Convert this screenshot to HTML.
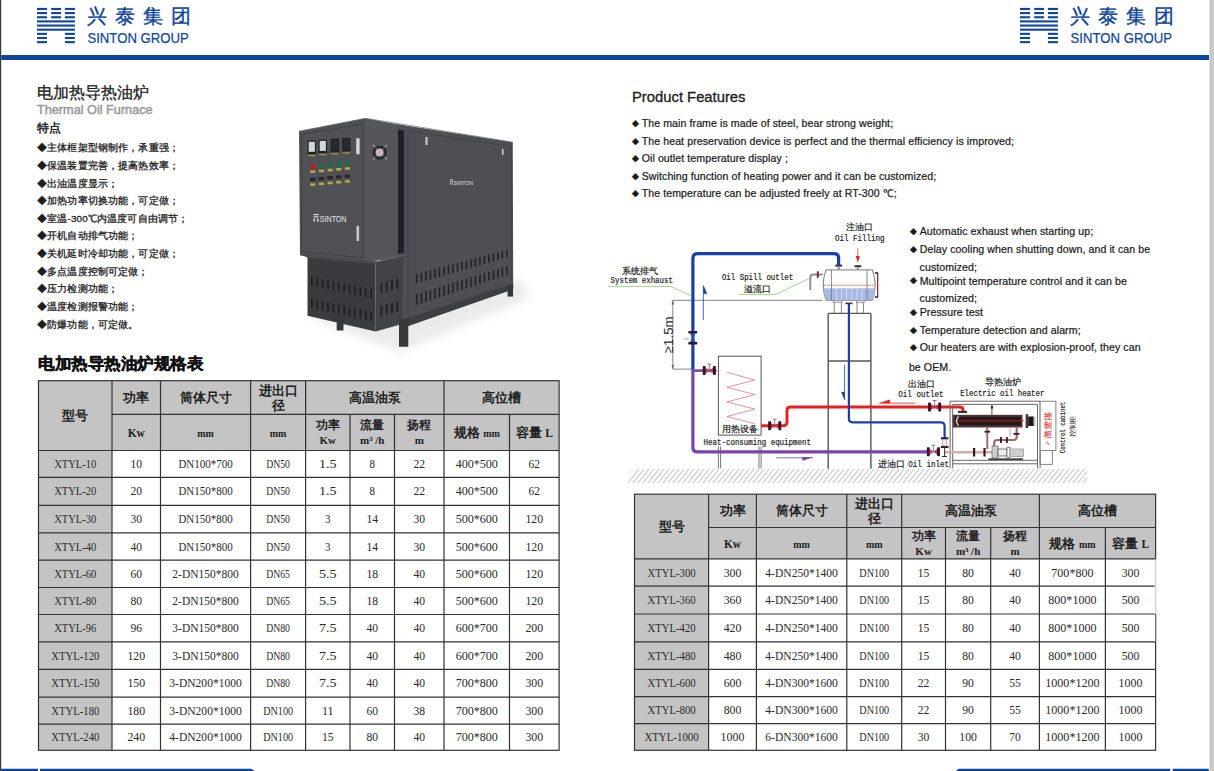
<!DOCTYPE html>
<html><head><meta charset="utf-8"><title>Thermal Oil Furnace</title>
<style>html,body{margin:0;padding:0;background:#fff;width:1214px;height:771px;overflow:hidden}svg{display:block}</style>
</head><body>
<svg width="1214" height="771" viewBox="0 0 1214 771">
<rect x="0" y="0" width="1.2" height="771" fill="#3a3a3a"/><rect x="1210" y="0" width="4" height="771" fill="#cbcbcb"/><rect x="1209.6" y="0" width="0.8" height="771" fill="#b8b8b8"/><rect x="1.2" y="55" width="1207.8" height="5" fill="#0d449c"/><path d="M1.2 768.7 H251 L254.6 771 H1.2Z" fill="#0d449c"/><rect x="38" y="768" width="2" height="3" fill="#ffffff"/><path d="M958.8 768.7 H1208.8 V771 H955.8Z" fill="#0d449c"/><rect x="1170.2" y="768" width="2.4" height="3" fill="#ffffff"/><g fill="#0d449c"><rect x="37.00" y="7.90" width="10.00" height="2.1" /><rect x="51.20" y="7.90" width="9.80" height="2.1" /><rect x="64.90" y="7.90" width="10.00" height="2.1" /><rect x="37.00" y="12.05" width="10.00" height="2.1" /><rect x="51.20" y="12.05" width="9.80" height="2.1" /><rect x="64.90" y="12.05" width="10.00" height="2.1" /><rect x="37.00" y="16.20" width="10.00" height="2.1" /><rect x="51.20" y="16.20" width="9.80" height="2.1" /><rect x="64.90" y="16.20" width="10.00" height="2.1" /><rect x="37.00" y="20.35" width="37.9" height="2.1" /><rect x="37.00" y="24.50" width="37.9" height="2.1" /><rect x="37.00" y="28.65" width="37.9" height="2.1" /><rect x="37.00" y="32.80" width="10.00" height="2.1" /><rect x="64.90" y="32.80" width="10.00" height="2.1" /><rect x="37.00" y="36.95" width="10.00" height="2.1" /><rect x="64.90" y="36.95" width="10.00" height="2.1" /><rect x="37.00" y="41.10" width="10.00" height="2.1" /><rect x="64.90" y="41.10" width="10.00" height="2.1" /></g><text x="87.10000000000001" y="23.3" font-family="'Liberation Sans',sans-serif" font-size="20.3" fill="#0d449c" stroke="#0d449c" stroke-width="0.35" letter-spacing="7.9">兴泰集团</text><text x="87.4" y="43" font-family="'Liberation Sans',sans-serif" font-size="13.9" fill="#0d449c" stroke="#0d449c" stroke-width="0.2" textLength="101.5" lengthAdjust="spacingAndGlyphs">SINTON GROUP</text><g fill="#0d449c"><rect x="1020.00" y="7.90" width="10.00" height="2.1" /><rect x="1034.20" y="7.90" width="9.80" height="2.1" /><rect x="1047.90" y="7.90" width="10.00" height="2.1" /><rect x="1020.00" y="12.05" width="10.00" height="2.1" /><rect x="1034.20" y="12.05" width="9.80" height="2.1" /><rect x="1047.90" y="12.05" width="10.00" height="2.1" /><rect x="1020.00" y="16.20" width="10.00" height="2.1" /><rect x="1034.20" y="16.20" width="9.80" height="2.1" /><rect x="1047.90" y="16.20" width="10.00" height="2.1" /><rect x="1020.00" y="20.35" width="37.9" height="2.1" /><rect x="1020.00" y="24.50" width="37.9" height="2.1" /><rect x="1020.00" y="28.65" width="37.9" height="2.1" /><rect x="1020.00" y="32.80" width="10.00" height="2.1" /><rect x="1047.90" y="32.80" width="10.00" height="2.1" /><rect x="1020.00" y="36.95" width="10.00" height="2.1" /><rect x="1047.90" y="36.95" width="10.00" height="2.1" /><rect x="1020.00" y="41.10" width="10.00" height="2.1" /><rect x="1047.90" y="41.10" width="10.00" height="2.1" /></g><text x="1070.2" y="23.3" font-family="'Liberation Sans',sans-serif" font-size="20.3" fill="#0d449c" stroke="#0d449c" stroke-width="0.35" letter-spacing="7.9">兴泰集团</text><text x="1070.5" y="43" font-family="'Liberation Sans',sans-serif" font-size="13.9" fill="#0d449c" stroke="#0d449c" stroke-width="0.2" textLength="101.5" lengthAdjust="spacingAndGlyphs">SINTON GROUP</text><text x="37" y="98" font-family="'Liberation Sans',sans-serif" font-size="16" font-weight="normal" fill="#222" text-anchor="start" stroke="#222" stroke-width="0.3">电加热导热油炉</text><text x="37" y="113.5" font-family="'Liberation Sans',sans-serif" font-size="12.7" font-weight="normal" fill="#9a9a9a" text-anchor="start" stroke="#9a9a9a" stroke-width="0.5">Thermal Oil Furnace</text><text x="37" y="132" font-family="'Liberation Sans',sans-serif" font-size="12" font-weight="bold" fill="#222" text-anchor="start" >特点</text><text x="37" y="151.30" font-family="'Liberation Sans',sans-serif" font-size="9.9" font-weight="normal" fill="#1e1e1e" text-anchor="start" stroke="#1e1e1e" stroke-width="0.3" letter-spacing="0.15">◆主体框架型钢制作，承重强；</text><text x="37" y="168.93" font-family="'Liberation Sans',sans-serif" font-size="9.9" font-weight="normal" fill="#1e1e1e" text-anchor="start" stroke="#1e1e1e" stroke-width="0.3" letter-spacing="0.15">◆保温装置完善，提高热效率；</text><text x="37" y="186.56" font-family="'Liberation Sans',sans-serif" font-size="9.9" font-weight="normal" fill="#1e1e1e" text-anchor="start" stroke="#1e1e1e" stroke-width="0.3" letter-spacing="0.15">◆出油温度显示；</text><text x="37" y="204.19" font-family="'Liberation Sans',sans-serif" font-size="9.9" font-weight="normal" fill="#1e1e1e" text-anchor="start" stroke="#1e1e1e" stroke-width="0.3" letter-spacing="0.15">◆加热功率切换功能，可定做；</text><text x="37" y="221.82" font-family="'Liberation Sans',sans-serif" font-size="9.9" font-weight="normal" fill="#1e1e1e" text-anchor="start" stroke="#1e1e1e" stroke-width="0.3" letter-spacing="0.15">◆室温-300℃内温度可自由调节；</text><text x="37" y="239.45" font-family="'Liberation Sans',sans-serif" font-size="9.9" font-weight="normal" fill="#1e1e1e" text-anchor="start" stroke="#1e1e1e" stroke-width="0.3" letter-spacing="0.15">◆开机自动排气功能；</text><text x="37" y="257.08" font-family="'Liberation Sans',sans-serif" font-size="9.9" font-weight="normal" fill="#1e1e1e" text-anchor="start" stroke="#1e1e1e" stroke-width="0.3" letter-spacing="0.15">◆关机延时冷却功能，可定做；</text><text x="37" y="274.71" font-family="'Liberation Sans',sans-serif" font-size="9.9" font-weight="normal" fill="#1e1e1e" text-anchor="start" stroke="#1e1e1e" stroke-width="0.3" letter-spacing="0.15">◆多点温度控制可定做；</text><text x="37" y="292.34" font-family="'Liberation Sans',sans-serif" font-size="9.9" font-weight="normal" fill="#1e1e1e" text-anchor="start" stroke="#1e1e1e" stroke-width="0.3" letter-spacing="0.15">◆压力检测功能；</text><text x="37" y="309.97" font-family="'Liberation Sans',sans-serif" font-size="9.9" font-weight="normal" fill="#1e1e1e" text-anchor="start" stroke="#1e1e1e" stroke-width="0.3" letter-spacing="0.15">◆温度检测报警功能；</text><text x="37" y="327.60" font-family="'Liberation Sans',sans-serif" font-size="9.9" font-weight="normal" fill="#1e1e1e" text-anchor="start" stroke="#1e1e1e" stroke-width="0.3" letter-spacing="0.15">◆防爆功能，可定做。</text><text x="38" y="368.8" font-family="'Liberation Sans',sans-serif" font-size="16.3" font-weight="bold" fill="#111" text-anchor="start" textLength="165.5" lengthAdjust="spacingAndGlyphs" stroke="#111" stroke-width="0.35">电加热导热油炉规格表</text><rect x="38.5" y="380.7" width="520.6" height="69.80000000000001" fill="#c4c4c4"/><rect x="38.5" y="450.5" width="73.5" height="299.79999999999995" fill="#c4c4c4"/><rect x="38.5" y="380.7" width="520.6" height="369.59999999999997" fill="none" stroke="#333" stroke-width="1.2"/><line x1="112" y1="380.7" x2="112" y2="750.3" stroke="#333" stroke-width="1.2"/><line x1="160.5" y1="380.7" x2="160.5" y2="750.3" stroke="#333" stroke-width="1.2"/><line x1="250.6" y1="380.7" x2="250.6" y2="750.3" stroke="#333" stroke-width="1.2"/><line x1="305.6" y1="380.7" x2="305.6" y2="750.3" stroke="#333" stroke-width="1.2"/><line x1="350" y1="414.3" x2="350" y2="750.3" stroke="#333" stroke-width="1.2"/><line x1="394.5" y1="414.3" x2="394.5" y2="750.3" stroke="#333" stroke-width="1.2"/><line x1="444" y1="380.7" x2="444" y2="750.3" stroke="#333" stroke-width="1.2"/><line x1="509.5" y1="414.3" x2="509.5" y2="750.3" stroke="#333" stroke-width="1.2"/><line x1="112" y1="414.3" x2="559.1" y2="414.3" stroke="#333" stroke-width="1.2"/><line x1="38.5" y1="450.5" x2="559.1" y2="450.5" stroke="#333" stroke-width="1.2"/><line x1="38.5" y1="477.30" x2="559.1" y2="477.30" stroke="#333" stroke-width="1.2"/><line x1="38.5" y1="505.30" x2="559.1" y2="505.30" stroke="#333" stroke-width="1.2"/><line x1="38.5" y1="532.90" x2="559.1" y2="532.90" stroke="#333" stroke-width="1.2"/><line x1="38.5" y1="560.20" x2="559.1" y2="560.20" stroke="#333" stroke-width="1.2"/><line x1="38.5" y1="587.50" x2="559.1" y2="587.50" stroke="#333" stroke-width="1.2"/><line x1="38.5" y1="614.50" x2="559.1" y2="614.50" stroke="#333" stroke-width="1.2"/><line x1="38.5" y1="641.80" x2="559.1" y2="641.80" stroke="#333" stroke-width="1.2"/><line x1="38.5" y1="669.40" x2="559.1" y2="669.40" stroke="#333" stroke-width="1.2"/><line x1="38.5" y1="697.10" x2="559.1" y2="697.10" stroke="#333" stroke-width="1.2"/><line x1="38.5" y1="724.10" x2="559.1" y2="724.10" stroke="#333" stroke-width="1.2"/><text x="75.25" y="420.1" font-family="'Liberation Sans',sans-serif" font-size="13" font-weight="bold" fill="#222" text-anchor="middle" >型号</text><text x="136.25" y="402.0" font-family="'Liberation Sans',sans-serif" font-size="13" font-weight="bold" fill="#222" text-anchor="middle" >功率</text><text x="205.55" y="402.0" font-family="'Liberation Sans',sans-serif" font-size="13" font-weight="bold" fill="#222" text-anchor="middle" >筒体尺寸</text><text x="278.1" y="394.7" font-family="'Liberation Sans',sans-serif" font-size="13" font-weight="bold" fill="#222" text-anchor="middle" >进出口</text><text x="278.1" y="410.1" font-family="'Liberation Sans',sans-serif" font-size="13" font-weight="bold" fill="#222" text-anchor="middle" >径</text><text x="374.8" y="402.0" font-family="'Liberation Sans',sans-serif" font-size="13" font-weight="bold" fill="#222" text-anchor="middle" >高温油泵</text><text x="501.55" y="402.0" font-family="'Liberation Sans',sans-serif" font-size="13" font-weight="bold" fill="#222" text-anchor="middle" >高位槽</text><text x="136.25" y="437.4" font-family="'Liberation Serif',serif" font-size="11.5" font-weight="bold" fill="#222" text-anchor="middle" >Kw</text><text x="205.55" y="437.4" font-family="'Liberation Serif',serif" font-size="10" font-weight="bold" fill="#222" text-anchor="middle" >mm</text><text x="278.1" y="437.4" font-family="'Liberation Serif',serif" font-size="10" font-weight="bold" fill="#222" text-anchor="middle" >mm</text><text x="327.8" y="429.09999999999997" font-family="'Liberation Sans',sans-serif" font-size="12" font-weight="bold" fill="#222" text-anchor="middle" >功率</text><text x="327.8" y="444.4" font-family="'Liberation Serif',serif" font-size="11" font-weight="bold" fill="#222" text-anchor="middle" >Kw</text><text x="372.25" y="429.09999999999997" font-family="'Liberation Sans',sans-serif" font-size="12" font-weight="bold" fill="#222" text-anchor="middle" >流量</text><text x="372.25" y="444.4" font-family="'Liberation Serif',serif" font-size="11" font-weight="bold" fill="#222" text-anchor="middle" >m³ /h</text><text x="419.25" y="429.09999999999997" font-family="'Liberation Sans',sans-serif" font-size="12" font-weight="bold" fill="#222" text-anchor="middle" >扬程</text><text x="419.25" y="444.4" font-family="'Liberation Serif',serif" font-size="11" font-weight="bold" fill="#222" text-anchor="middle" >m</text><text x="476.75" y="436.9" font-family="'Liberation Sans',sans-serif" font-size="13" font-weight="bold" fill="#222" text-anchor="middle" >规格 <tspan font-family="Liberation Serif" font-size="10">mm</tspan></text><text x="534.3" y="436.9" font-family="'Liberation Sans',sans-serif" font-size="13" font-weight="bold" fill="#222" text-anchor="middle" >容量 <tspan font-family="Liberation Serif" font-size="11.5">L</tspan></text><text x="75.25" y="467.90" font-family="'Liberation Serif',serif" font-size="11.8" font-weight="normal" fill="#2a2a2a" text-anchor="middle" textLength="42.1" lengthAdjust="spacingAndGlyphs">XTYL-10</text><text x="136.25" y="467.90" font-family="'Liberation Serif',serif" font-size="11.8" font-weight="normal" fill="#2a2a2a" text-anchor="middle" textLength="11.6" lengthAdjust="spacingAndGlyphs">10</text><text x="205.55" y="467.90" font-family="'Liberation Serif',serif" font-size="11.8" font-weight="normal" fill="#2a2a2a" text-anchor="middle" textLength="54.3" lengthAdjust="spacingAndGlyphs">DN100*700</text><text x="278.1" y="467.90" font-family="'Liberation Serif',serif" font-size="11.8" font-weight="normal" fill="#2a2a2a" text-anchor="middle" textLength="23.8" lengthAdjust="spacingAndGlyphs">DN50</text><text x="327.8" y="467.90" font-family="'Liberation Serif',serif" font-size="11.8" font-weight="normal" fill="#2a2a2a" text-anchor="middle" textLength="17.7" lengthAdjust="spacingAndGlyphs">1.5</text><text x="372.25" y="467.90" font-family="'Liberation Serif',serif" font-size="11.8" font-weight="normal" fill="#2a2a2a" text-anchor="middle" textLength="5.5" lengthAdjust="spacingAndGlyphs">8</text><text x="419.25" y="467.90" font-family="'Liberation Serif',serif" font-size="11.8" font-weight="normal" fill="#2a2a2a" text-anchor="middle" textLength="11.6" lengthAdjust="spacingAndGlyphs">22</text><text x="476.75" y="467.90" font-family="'Liberation Serif',serif" font-size="11.8" font-weight="normal" fill="#2a2a2a" text-anchor="middle" textLength="42.1" lengthAdjust="spacingAndGlyphs">400*500</text><text x="534.3" y="467.90" font-family="'Liberation Serif',serif" font-size="11.8" font-weight="normal" fill="#2a2a2a" text-anchor="middle" textLength="11.6" lengthAdjust="spacingAndGlyphs">62</text><text x="75.25" y="495.30" font-family="'Liberation Serif',serif" font-size="11.8" font-weight="normal" fill="#2a2a2a" text-anchor="middle" textLength="42.1" lengthAdjust="spacingAndGlyphs">XTYL-20</text><text x="136.25" y="495.30" font-family="'Liberation Serif',serif" font-size="11.8" font-weight="normal" fill="#2a2a2a" text-anchor="middle" textLength="11.6" lengthAdjust="spacingAndGlyphs">20</text><text x="205.55" y="495.30" font-family="'Liberation Serif',serif" font-size="11.8" font-weight="normal" fill="#2a2a2a" text-anchor="middle" textLength="54.3" lengthAdjust="spacingAndGlyphs">DN150*800</text><text x="278.1" y="495.30" font-family="'Liberation Serif',serif" font-size="11.8" font-weight="normal" fill="#2a2a2a" text-anchor="middle" textLength="23.8" lengthAdjust="spacingAndGlyphs">DN50</text><text x="327.8" y="495.30" font-family="'Liberation Serif',serif" font-size="11.8" font-weight="normal" fill="#2a2a2a" text-anchor="middle" textLength="17.7" lengthAdjust="spacingAndGlyphs">1.5</text><text x="372.25" y="495.30" font-family="'Liberation Serif',serif" font-size="11.8" font-weight="normal" fill="#2a2a2a" text-anchor="middle" textLength="5.5" lengthAdjust="spacingAndGlyphs">8</text><text x="419.25" y="495.30" font-family="'Liberation Serif',serif" font-size="11.8" font-weight="normal" fill="#2a2a2a" text-anchor="middle" textLength="11.6" lengthAdjust="spacingAndGlyphs">22</text><text x="476.75" y="495.30" font-family="'Liberation Serif',serif" font-size="11.8" font-weight="normal" fill="#2a2a2a" text-anchor="middle" textLength="42.1" lengthAdjust="spacingAndGlyphs">400*500</text><text x="534.3" y="495.30" font-family="'Liberation Serif',serif" font-size="11.8" font-weight="normal" fill="#2a2a2a" text-anchor="middle" textLength="11.6" lengthAdjust="spacingAndGlyphs">62</text><text x="75.25" y="523.10" font-family="'Liberation Serif',serif" font-size="11.8" font-weight="normal" fill="#2a2a2a" text-anchor="middle" textLength="42.1" lengthAdjust="spacingAndGlyphs">XTYL-30</text><text x="136.25" y="523.10" font-family="'Liberation Serif',serif" font-size="11.8" font-weight="normal" fill="#2a2a2a" text-anchor="middle" textLength="11.6" lengthAdjust="spacingAndGlyphs">30</text><text x="205.55" y="523.10" font-family="'Liberation Serif',serif" font-size="11.8" font-weight="normal" fill="#2a2a2a" text-anchor="middle" textLength="54.3" lengthAdjust="spacingAndGlyphs">DN150*800</text><text x="278.1" y="523.10" font-family="'Liberation Serif',serif" font-size="11.8" font-weight="normal" fill="#2a2a2a" text-anchor="middle" textLength="23.8" lengthAdjust="spacingAndGlyphs">DN50</text><text x="327.8" y="523.10" font-family="'Liberation Serif',serif" font-size="11.8" font-weight="normal" fill="#2a2a2a" text-anchor="middle" textLength="5.5" lengthAdjust="spacingAndGlyphs">3</text><text x="372.25" y="523.10" font-family="'Liberation Serif',serif" font-size="11.8" font-weight="normal" fill="#2a2a2a" text-anchor="middle" textLength="11.6" lengthAdjust="spacingAndGlyphs">14</text><text x="419.25" y="523.10" font-family="'Liberation Serif',serif" font-size="11.8" font-weight="normal" fill="#2a2a2a" text-anchor="middle" textLength="11.6" lengthAdjust="spacingAndGlyphs">30</text><text x="476.75" y="523.10" font-family="'Liberation Serif',serif" font-size="11.8" font-weight="normal" fill="#2a2a2a" text-anchor="middle" textLength="42.1" lengthAdjust="spacingAndGlyphs">500*600</text><text x="534.3" y="523.10" font-family="'Liberation Serif',serif" font-size="11.8" font-weight="normal" fill="#2a2a2a" text-anchor="middle" textLength="17.7" lengthAdjust="spacingAndGlyphs">120</text><text x="75.25" y="550.55" font-family="'Liberation Serif',serif" font-size="11.8" font-weight="normal" fill="#2a2a2a" text-anchor="middle" textLength="42.1" lengthAdjust="spacingAndGlyphs">XTYL-40</text><text x="136.25" y="550.55" font-family="'Liberation Serif',serif" font-size="11.8" font-weight="normal" fill="#2a2a2a" text-anchor="middle" textLength="11.6" lengthAdjust="spacingAndGlyphs">40</text><text x="205.55" y="550.55" font-family="'Liberation Serif',serif" font-size="11.8" font-weight="normal" fill="#2a2a2a" text-anchor="middle" textLength="54.3" lengthAdjust="spacingAndGlyphs">DN150*800</text><text x="278.1" y="550.55" font-family="'Liberation Serif',serif" font-size="11.8" font-weight="normal" fill="#2a2a2a" text-anchor="middle" textLength="23.8" lengthAdjust="spacingAndGlyphs">DN50</text><text x="327.8" y="550.55" font-family="'Liberation Serif',serif" font-size="11.8" font-weight="normal" fill="#2a2a2a" text-anchor="middle" textLength="5.5" lengthAdjust="spacingAndGlyphs">3</text><text x="372.25" y="550.55" font-family="'Liberation Serif',serif" font-size="11.8" font-weight="normal" fill="#2a2a2a" text-anchor="middle" textLength="11.6" lengthAdjust="spacingAndGlyphs">14</text><text x="419.25" y="550.55" font-family="'Liberation Serif',serif" font-size="11.8" font-weight="normal" fill="#2a2a2a" text-anchor="middle" textLength="11.6" lengthAdjust="spacingAndGlyphs">30</text><text x="476.75" y="550.55" font-family="'Liberation Serif',serif" font-size="11.8" font-weight="normal" fill="#2a2a2a" text-anchor="middle" textLength="42.1" lengthAdjust="spacingAndGlyphs">500*600</text><text x="534.3" y="550.55" font-family="'Liberation Serif',serif" font-size="11.8" font-weight="normal" fill="#2a2a2a" text-anchor="middle" textLength="17.7" lengthAdjust="spacingAndGlyphs">120</text><text x="75.25" y="577.85" font-family="'Liberation Serif',serif" font-size="11.8" font-weight="normal" fill="#2a2a2a" text-anchor="middle" textLength="42.1" lengthAdjust="spacingAndGlyphs">XTYL-60</text><text x="136.25" y="577.85" font-family="'Liberation Serif',serif" font-size="11.8" font-weight="normal" fill="#2a2a2a" text-anchor="middle" textLength="11.6" lengthAdjust="spacingAndGlyphs">60</text><text x="205.55" y="577.85" font-family="'Liberation Serif',serif" font-size="11.8" font-weight="normal" fill="#2a2a2a" text-anchor="middle" textLength="66.5" lengthAdjust="spacingAndGlyphs">2-DN150*800</text><text x="278.1" y="577.85" font-family="'Liberation Serif',serif" font-size="11.8" font-weight="normal" fill="#2a2a2a" text-anchor="middle" textLength="23.8" lengthAdjust="spacingAndGlyphs">DN65</text><text x="327.8" y="577.85" font-family="'Liberation Serif',serif" font-size="11.8" font-weight="normal" fill="#2a2a2a" text-anchor="middle" textLength="17.7" lengthAdjust="spacingAndGlyphs">5.5</text><text x="372.25" y="577.85" font-family="'Liberation Serif',serif" font-size="11.8" font-weight="normal" fill="#2a2a2a" text-anchor="middle" textLength="11.6" lengthAdjust="spacingAndGlyphs">18</text><text x="419.25" y="577.85" font-family="'Liberation Serif',serif" font-size="11.8" font-weight="normal" fill="#2a2a2a" text-anchor="middle" textLength="11.6" lengthAdjust="spacingAndGlyphs">40</text><text x="476.75" y="577.85" font-family="'Liberation Serif',serif" font-size="11.8" font-weight="normal" fill="#2a2a2a" text-anchor="middle" textLength="42.1" lengthAdjust="spacingAndGlyphs">500*600</text><text x="534.3" y="577.85" font-family="'Liberation Serif',serif" font-size="11.8" font-weight="normal" fill="#2a2a2a" text-anchor="middle" textLength="17.7" lengthAdjust="spacingAndGlyphs">120</text><text x="75.25" y="605.00" font-family="'Liberation Serif',serif" font-size="11.8" font-weight="normal" fill="#2a2a2a" text-anchor="middle" textLength="42.1" lengthAdjust="spacingAndGlyphs">XTYL-80</text><text x="136.25" y="605.00" font-family="'Liberation Serif',serif" font-size="11.8" font-weight="normal" fill="#2a2a2a" text-anchor="middle" textLength="11.6" lengthAdjust="spacingAndGlyphs">80</text><text x="205.55" y="605.00" font-family="'Liberation Serif',serif" font-size="11.8" font-weight="normal" fill="#2a2a2a" text-anchor="middle" textLength="66.5" lengthAdjust="spacingAndGlyphs">2-DN150*800</text><text x="278.1" y="605.00" font-family="'Liberation Serif',serif" font-size="11.8" font-weight="normal" fill="#2a2a2a" text-anchor="middle" textLength="23.8" lengthAdjust="spacingAndGlyphs">DN65</text><text x="327.8" y="605.00" font-family="'Liberation Serif',serif" font-size="11.8" font-weight="normal" fill="#2a2a2a" text-anchor="middle" textLength="17.7" lengthAdjust="spacingAndGlyphs">5.5</text><text x="372.25" y="605.00" font-family="'Liberation Serif',serif" font-size="11.8" font-weight="normal" fill="#2a2a2a" text-anchor="middle" textLength="11.6" lengthAdjust="spacingAndGlyphs">18</text><text x="419.25" y="605.00" font-family="'Liberation Serif',serif" font-size="11.8" font-weight="normal" fill="#2a2a2a" text-anchor="middle" textLength="11.6" lengthAdjust="spacingAndGlyphs">40</text><text x="476.75" y="605.00" font-family="'Liberation Serif',serif" font-size="11.8" font-weight="normal" fill="#2a2a2a" text-anchor="middle" textLength="42.1" lengthAdjust="spacingAndGlyphs">500*600</text><text x="534.3" y="605.00" font-family="'Liberation Serif',serif" font-size="11.8" font-weight="normal" fill="#2a2a2a" text-anchor="middle" textLength="17.7" lengthAdjust="spacingAndGlyphs">120</text><text x="75.25" y="632.15" font-family="'Liberation Serif',serif" font-size="11.8" font-weight="normal" fill="#2a2a2a" text-anchor="middle" textLength="42.1" lengthAdjust="spacingAndGlyphs">XTYL-96</text><text x="136.25" y="632.15" font-family="'Liberation Serif',serif" font-size="11.8" font-weight="normal" fill="#2a2a2a" text-anchor="middle" textLength="11.6" lengthAdjust="spacingAndGlyphs">96</text><text x="205.55" y="632.15" font-family="'Liberation Serif',serif" font-size="11.8" font-weight="normal" fill="#2a2a2a" text-anchor="middle" textLength="66.5" lengthAdjust="spacingAndGlyphs">3-DN150*800</text><text x="278.1" y="632.15" font-family="'Liberation Serif',serif" font-size="11.8" font-weight="normal" fill="#2a2a2a" text-anchor="middle" textLength="23.8" lengthAdjust="spacingAndGlyphs">DN80</text><text x="327.8" y="632.15" font-family="'Liberation Serif',serif" font-size="11.8" font-weight="normal" fill="#2a2a2a" text-anchor="middle" textLength="17.7" lengthAdjust="spacingAndGlyphs">7.5</text><text x="372.25" y="632.15" font-family="'Liberation Serif',serif" font-size="11.8" font-weight="normal" fill="#2a2a2a" text-anchor="middle" textLength="11.6" lengthAdjust="spacingAndGlyphs">40</text><text x="419.25" y="632.15" font-family="'Liberation Serif',serif" font-size="11.8" font-weight="normal" fill="#2a2a2a" text-anchor="middle" textLength="11.6" lengthAdjust="spacingAndGlyphs">40</text><text x="476.75" y="632.15" font-family="'Liberation Serif',serif" font-size="11.8" font-weight="normal" fill="#2a2a2a" text-anchor="middle" textLength="42.1" lengthAdjust="spacingAndGlyphs">600*700</text><text x="534.3" y="632.15" font-family="'Liberation Serif',serif" font-size="11.8" font-weight="normal" fill="#2a2a2a" text-anchor="middle" textLength="17.7" lengthAdjust="spacingAndGlyphs">200</text><text x="75.25" y="659.60" font-family="'Liberation Serif',serif" font-size="11.8" font-weight="normal" fill="#2a2a2a" text-anchor="middle" textLength="48.2" lengthAdjust="spacingAndGlyphs">XTYL-120</text><text x="136.25" y="659.60" font-family="'Liberation Serif',serif" font-size="11.8" font-weight="normal" fill="#2a2a2a" text-anchor="middle" textLength="17.7" lengthAdjust="spacingAndGlyphs">120</text><text x="205.55" y="659.60" font-family="'Liberation Serif',serif" font-size="11.8" font-weight="normal" fill="#2a2a2a" text-anchor="middle" textLength="66.5" lengthAdjust="spacingAndGlyphs">3-DN150*800</text><text x="278.1" y="659.60" font-family="'Liberation Serif',serif" font-size="11.8" font-weight="normal" fill="#2a2a2a" text-anchor="middle" textLength="23.8" lengthAdjust="spacingAndGlyphs">DN80</text><text x="327.8" y="659.60" font-family="'Liberation Serif',serif" font-size="11.8" font-weight="normal" fill="#2a2a2a" text-anchor="middle" textLength="17.7" lengthAdjust="spacingAndGlyphs">7.5</text><text x="372.25" y="659.60" font-family="'Liberation Serif',serif" font-size="11.8" font-weight="normal" fill="#2a2a2a" text-anchor="middle" textLength="11.6" lengthAdjust="spacingAndGlyphs">40</text><text x="419.25" y="659.60" font-family="'Liberation Serif',serif" font-size="11.8" font-weight="normal" fill="#2a2a2a" text-anchor="middle" textLength="11.6" lengthAdjust="spacingAndGlyphs">40</text><text x="476.75" y="659.60" font-family="'Liberation Serif',serif" font-size="11.8" font-weight="normal" fill="#2a2a2a" text-anchor="middle" textLength="42.1" lengthAdjust="spacingAndGlyphs">600*700</text><text x="534.3" y="659.60" font-family="'Liberation Serif',serif" font-size="11.8" font-weight="normal" fill="#2a2a2a" text-anchor="middle" textLength="17.7" lengthAdjust="spacingAndGlyphs">200</text><text x="75.25" y="687.25" font-family="'Liberation Serif',serif" font-size="11.8" font-weight="normal" fill="#2a2a2a" text-anchor="middle" textLength="48.2" lengthAdjust="spacingAndGlyphs">XTYL-150</text><text x="136.25" y="687.25" font-family="'Liberation Serif',serif" font-size="11.8" font-weight="normal" fill="#2a2a2a" text-anchor="middle" textLength="17.7" lengthAdjust="spacingAndGlyphs">150</text><text x="205.55" y="687.25" font-family="'Liberation Serif',serif" font-size="11.8" font-weight="normal" fill="#2a2a2a" text-anchor="middle" textLength="72.6" lengthAdjust="spacingAndGlyphs">3-DN200*1000</text><text x="278.1" y="687.25" font-family="'Liberation Serif',serif" font-size="11.8" font-weight="normal" fill="#2a2a2a" text-anchor="middle" textLength="23.8" lengthAdjust="spacingAndGlyphs">DN80</text><text x="327.8" y="687.25" font-family="'Liberation Serif',serif" font-size="11.8" font-weight="normal" fill="#2a2a2a" text-anchor="middle" textLength="17.7" lengthAdjust="spacingAndGlyphs">7.5</text><text x="372.25" y="687.25" font-family="'Liberation Serif',serif" font-size="11.8" font-weight="normal" fill="#2a2a2a" text-anchor="middle" textLength="11.6" lengthAdjust="spacingAndGlyphs">40</text><text x="419.25" y="687.25" font-family="'Liberation Serif',serif" font-size="11.8" font-weight="normal" fill="#2a2a2a" text-anchor="middle" textLength="11.6" lengthAdjust="spacingAndGlyphs">40</text><text x="476.75" y="687.25" font-family="'Liberation Serif',serif" font-size="11.8" font-weight="normal" fill="#2a2a2a" text-anchor="middle" textLength="42.1" lengthAdjust="spacingAndGlyphs">700*800</text><text x="534.3" y="687.25" font-family="'Liberation Serif',serif" font-size="11.8" font-weight="normal" fill="#2a2a2a" text-anchor="middle" textLength="17.7" lengthAdjust="spacingAndGlyphs">300</text><text x="75.25" y="714.60" font-family="'Liberation Serif',serif" font-size="11.8" font-weight="normal" fill="#2a2a2a" text-anchor="middle" textLength="48.2" lengthAdjust="spacingAndGlyphs">XTYL-180</text><text x="136.25" y="714.60" font-family="'Liberation Serif',serif" font-size="11.8" font-weight="normal" fill="#2a2a2a" text-anchor="middle" textLength="17.7" lengthAdjust="spacingAndGlyphs">180</text><text x="205.55" y="714.60" font-family="'Liberation Serif',serif" font-size="11.8" font-weight="normal" fill="#2a2a2a" text-anchor="middle" textLength="72.6" lengthAdjust="spacingAndGlyphs">3-DN200*1000</text><text x="278.1" y="714.60" font-family="'Liberation Serif',serif" font-size="11.8" font-weight="normal" fill="#2a2a2a" text-anchor="middle" textLength="29.9" lengthAdjust="spacingAndGlyphs">DN100</text><text x="327.8" y="714.60" font-family="'Liberation Serif',serif" font-size="11.8" font-weight="normal" fill="#2a2a2a" text-anchor="middle" textLength="11.6" lengthAdjust="spacingAndGlyphs">11</text><text x="372.25" y="714.60" font-family="'Liberation Serif',serif" font-size="11.8" font-weight="normal" fill="#2a2a2a" text-anchor="middle" textLength="11.6" lengthAdjust="spacingAndGlyphs">60</text><text x="419.25" y="714.60" font-family="'Liberation Serif',serif" font-size="11.8" font-weight="normal" fill="#2a2a2a" text-anchor="middle" textLength="11.6" lengthAdjust="spacingAndGlyphs">38</text><text x="476.75" y="714.60" font-family="'Liberation Serif',serif" font-size="11.8" font-weight="normal" fill="#2a2a2a" text-anchor="middle" textLength="42.1" lengthAdjust="spacingAndGlyphs">700*800</text><text x="534.3" y="714.60" font-family="'Liberation Serif',serif" font-size="11.8" font-weight="normal" fill="#2a2a2a" text-anchor="middle" textLength="17.7" lengthAdjust="spacingAndGlyphs">300</text><text x="75.25" y="741.20" font-family="'Liberation Serif',serif" font-size="11.8" font-weight="normal" fill="#2a2a2a" text-anchor="middle" textLength="48.2" lengthAdjust="spacingAndGlyphs">XTYL-240</text><text x="136.25" y="741.20" font-family="'Liberation Serif',serif" font-size="11.8" font-weight="normal" fill="#2a2a2a" text-anchor="middle" textLength="17.7" lengthAdjust="spacingAndGlyphs">240</text><text x="205.55" y="741.20" font-family="'Liberation Serif',serif" font-size="11.8" font-weight="normal" fill="#2a2a2a" text-anchor="middle" textLength="72.6" lengthAdjust="spacingAndGlyphs">4-DN200*1000</text><text x="278.1" y="741.20" font-family="'Liberation Serif',serif" font-size="11.8" font-weight="normal" fill="#2a2a2a" text-anchor="middle" textLength="29.9" lengthAdjust="spacingAndGlyphs">DN100</text><text x="327.8" y="741.20" font-family="'Liberation Serif',serif" font-size="11.8" font-weight="normal" fill="#2a2a2a" text-anchor="middle" textLength="11.6" lengthAdjust="spacingAndGlyphs">15</text><text x="372.25" y="741.20" font-family="'Liberation Serif',serif" font-size="11.8" font-weight="normal" fill="#2a2a2a" text-anchor="middle" textLength="11.6" lengthAdjust="spacingAndGlyphs">80</text><text x="419.25" y="741.20" font-family="'Liberation Serif',serif" font-size="11.8" font-weight="normal" fill="#2a2a2a" text-anchor="middle" textLength="11.6" lengthAdjust="spacingAndGlyphs">40</text><text x="476.75" y="741.20" font-family="'Liberation Serif',serif" font-size="11.8" font-weight="normal" fill="#2a2a2a" text-anchor="middle" textLength="42.1" lengthAdjust="spacingAndGlyphs">700*800</text><text x="534.3" y="741.20" font-family="'Liberation Serif',serif" font-size="11.8" font-weight="normal" fill="#2a2a2a" text-anchor="middle" textLength="17.7" lengthAdjust="spacingAndGlyphs">300</text><rect x="634.5" y="494.2" width="521.0999999999999" height="64.59999999999997" fill="#c4c4c4"/><rect x="634.5" y="558.8" width="74.10000000000002" height="191.5" fill="#c4c4c4"/><rect x="634.5" y="494.2" width="521.0999999999999" height="256.09999999999997" fill="none" stroke="#333" stroke-width="1.2"/><line x1="708.6" y1="494.2" x2="708.6" y2="750.3" stroke="#333" stroke-width="1.2"/><line x1="756.4" y1="494.2" x2="756.4" y2="750.3" stroke="#333" stroke-width="1.2"/><line x1="846.8" y1="494.2" x2="846.8" y2="750.3" stroke="#333" stroke-width="1.2"/><line x1="901.7" y1="494.2" x2="901.7" y2="750.3" stroke="#333" stroke-width="1.2"/><line x1="945.5" y1="527.5" x2="945.5" y2="750.3" stroke="#333" stroke-width="1.2"/><line x1="990.7" y1="527.5" x2="990.7" y2="750.3" stroke="#333" stroke-width="1.2"/><line x1="1039.4" y1="494.2" x2="1039.4" y2="750.3" stroke="#333" stroke-width="1.2"/><line x1="1105.4" y1="527.5" x2="1105.4" y2="750.3" stroke="#333" stroke-width="1.2"/><line x1="708.6" y1="527.5" x2="1155.6" y2="527.5" stroke="#333" stroke-width="1.2"/><line x1="634.5" y1="558.8" x2="1155.6" y2="558.8" stroke="#333" stroke-width="1.2"/><line x1="634.5" y1="586.20" x2="1155.6" y2="586.20" stroke="#333" stroke-width="1.2"/><line x1="634.5" y1="614.00" x2="1155.6" y2="614.00" stroke="#333" stroke-width="1.2"/><line x1="634.5" y1="641.80" x2="1155.6" y2="641.80" stroke="#333" stroke-width="1.2"/><line x1="634.5" y1="669.30" x2="1155.6" y2="669.30" stroke="#333" stroke-width="1.2"/><line x1="634.5" y1="696.60" x2="1155.6" y2="696.60" stroke="#333" stroke-width="1.2"/><line x1="634.5" y1="723.70" x2="1155.6" y2="723.70" stroke="#333" stroke-width="1.2"/><text x="671.55" y="531.0" font-family="'Liberation Sans',sans-serif" font-size="13" font-weight="bold" fill="#222" text-anchor="middle" >型号</text><text x="732.5" y="515.35" font-family="'Liberation Sans',sans-serif" font-size="13" font-weight="bold" fill="#222" text-anchor="middle" >功率</text><text x="801.5999999999999" y="515.35" font-family="'Liberation Sans',sans-serif" font-size="13" font-weight="bold" fill="#222" text-anchor="middle" >筒体尺寸</text><text x="874.25" y="508.05" font-family="'Liberation Sans',sans-serif" font-size="13" font-weight="bold" fill="#222" text-anchor="middle" >进出口</text><text x="874.25" y="523.45" font-family="'Liberation Sans',sans-serif" font-size="13" font-weight="bold" fill="#222" text-anchor="middle" >径</text><text x="970.5500000000001" y="515.35" font-family="'Liberation Sans',sans-serif" font-size="13" font-weight="bold" fill="#222" text-anchor="middle" >高温油泵</text><text x="1097.5" y="515.35" font-family="'Liberation Sans',sans-serif" font-size="13" font-weight="bold" fill="#222" text-anchor="middle" >高位槽</text><text x="732.5" y="548.15" font-family="'Liberation Serif',serif" font-size="11.5" font-weight="bold" fill="#222" text-anchor="middle" >Kw</text><text x="801.5999999999999" y="548.15" font-family="'Liberation Serif',serif" font-size="10" font-weight="bold" fill="#222" text-anchor="middle" >mm</text><text x="874.25" y="548.15" font-family="'Liberation Serif',serif" font-size="10" font-weight="bold" fill="#222" text-anchor="middle" >mm</text><text x="923.6" y="539.85" font-family="'Liberation Sans',sans-serif" font-size="12" font-weight="bold" fill="#222" text-anchor="middle" >功率</text><text x="923.6" y="555.15" font-family="'Liberation Serif',serif" font-size="11" font-weight="bold" fill="#222" text-anchor="middle" >Kw</text><text x="968.1" y="539.85" font-family="'Liberation Sans',sans-serif" font-size="12" font-weight="bold" fill="#222" text-anchor="middle" >流量</text><text x="968.1" y="555.15" font-family="'Liberation Serif',serif" font-size="11" font-weight="bold" fill="#222" text-anchor="middle" >m³ /h</text><text x="1015.0500000000001" y="539.85" font-family="'Liberation Sans',sans-serif" font-size="12" font-weight="bold" fill="#222" text-anchor="middle" >扬程</text><text x="1015.0500000000001" y="555.15" font-family="'Liberation Serif',serif" font-size="11" font-weight="bold" fill="#222" text-anchor="middle" >m</text><text x="1072.4" y="547.65" font-family="'Liberation Sans',sans-serif" font-size="13" font-weight="bold" fill="#222" text-anchor="middle" >规格 <tspan font-family="Liberation Serif" font-size="10">mm</tspan></text><text x="1130.5" y="547.65" font-family="'Liberation Sans',sans-serif" font-size="13" font-weight="bold" fill="#222" text-anchor="middle" >容量 <tspan font-family="Liberation Serif" font-size="11.5">L</tspan></text><text x="671.55" y="576.50" font-family="'Liberation Serif',serif" font-size="11.8" font-weight="normal" fill="#2a2a2a" text-anchor="middle" textLength="48.2" lengthAdjust="spacingAndGlyphs">XTYL-300</text><text x="732.5" y="576.50" font-family="'Liberation Serif',serif" font-size="11.8" font-weight="normal" fill="#2a2a2a" text-anchor="middle" textLength="17.7" lengthAdjust="spacingAndGlyphs">300</text><text x="801.5999999999999" y="576.50" font-family="'Liberation Serif',serif" font-size="11.8" font-weight="normal" fill="#2a2a2a" text-anchor="middle" textLength="72.6" lengthAdjust="spacingAndGlyphs">4-DN250*1400</text><text x="874.25" y="576.50" font-family="'Liberation Serif',serif" font-size="11.8" font-weight="normal" fill="#2a2a2a" text-anchor="middle" textLength="29.9" lengthAdjust="spacingAndGlyphs">DN100</text><text x="923.6" y="576.50" font-family="'Liberation Serif',serif" font-size="11.8" font-weight="normal" fill="#2a2a2a" text-anchor="middle" textLength="11.6" lengthAdjust="spacingAndGlyphs">15</text><text x="968.1" y="576.50" font-family="'Liberation Serif',serif" font-size="11.8" font-weight="normal" fill="#2a2a2a" text-anchor="middle" textLength="11.6" lengthAdjust="spacingAndGlyphs">80</text><text x="1015.0500000000001" y="576.50" font-family="'Liberation Serif',serif" font-size="11.8" font-weight="normal" fill="#2a2a2a" text-anchor="middle" textLength="11.6" lengthAdjust="spacingAndGlyphs">40</text><text x="1072.4" y="576.50" font-family="'Liberation Serif',serif" font-size="11.8" font-weight="normal" fill="#2a2a2a" text-anchor="middle" textLength="42.1" lengthAdjust="spacingAndGlyphs">700*800</text><text x="1130.5" y="576.50" font-family="'Liberation Serif',serif" font-size="11.8" font-weight="normal" fill="#2a2a2a" text-anchor="middle" textLength="17.7" lengthAdjust="spacingAndGlyphs">300</text><text x="671.55" y="604.10" font-family="'Liberation Serif',serif" font-size="11.8" font-weight="normal" fill="#2a2a2a" text-anchor="middle" textLength="48.2" lengthAdjust="spacingAndGlyphs">XTYL-360</text><text x="732.5" y="604.10" font-family="'Liberation Serif',serif" font-size="11.8" font-weight="normal" fill="#2a2a2a" text-anchor="middle" textLength="17.7" lengthAdjust="spacingAndGlyphs">360</text><text x="801.5999999999999" y="604.10" font-family="'Liberation Serif',serif" font-size="11.8" font-weight="normal" fill="#2a2a2a" text-anchor="middle" textLength="72.6" lengthAdjust="spacingAndGlyphs">4-DN250*1400</text><text x="874.25" y="604.10" font-family="'Liberation Serif',serif" font-size="11.8" font-weight="normal" fill="#2a2a2a" text-anchor="middle" textLength="29.9" lengthAdjust="spacingAndGlyphs">DN100</text><text x="923.6" y="604.10" font-family="'Liberation Serif',serif" font-size="11.8" font-weight="normal" fill="#2a2a2a" text-anchor="middle" textLength="11.6" lengthAdjust="spacingAndGlyphs">15</text><text x="968.1" y="604.10" font-family="'Liberation Serif',serif" font-size="11.8" font-weight="normal" fill="#2a2a2a" text-anchor="middle" textLength="11.6" lengthAdjust="spacingAndGlyphs">80</text><text x="1015.0500000000001" y="604.10" font-family="'Liberation Serif',serif" font-size="11.8" font-weight="normal" fill="#2a2a2a" text-anchor="middle" textLength="11.6" lengthAdjust="spacingAndGlyphs">40</text><text x="1072.4" y="604.10" font-family="'Liberation Serif',serif" font-size="11.8" font-weight="normal" fill="#2a2a2a" text-anchor="middle" textLength="48.2" lengthAdjust="spacingAndGlyphs">800*1000</text><text x="1130.5" y="604.10" font-family="'Liberation Serif',serif" font-size="11.8" font-weight="normal" fill="#2a2a2a" text-anchor="middle" textLength="17.7" lengthAdjust="spacingAndGlyphs">500</text><text x="671.55" y="631.90" font-family="'Liberation Serif',serif" font-size="11.8" font-weight="normal" fill="#2a2a2a" text-anchor="middle" textLength="48.2" lengthAdjust="spacingAndGlyphs">XTYL-420</text><text x="732.5" y="631.90" font-family="'Liberation Serif',serif" font-size="11.8" font-weight="normal" fill="#2a2a2a" text-anchor="middle" textLength="17.7" lengthAdjust="spacingAndGlyphs">420</text><text x="801.5999999999999" y="631.90" font-family="'Liberation Serif',serif" font-size="11.8" font-weight="normal" fill="#2a2a2a" text-anchor="middle" textLength="72.6" lengthAdjust="spacingAndGlyphs">4-DN250*1400</text><text x="874.25" y="631.90" font-family="'Liberation Serif',serif" font-size="11.8" font-weight="normal" fill="#2a2a2a" text-anchor="middle" textLength="29.9" lengthAdjust="spacingAndGlyphs">DN100</text><text x="923.6" y="631.90" font-family="'Liberation Serif',serif" font-size="11.8" font-weight="normal" fill="#2a2a2a" text-anchor="middle" textLength="11.6" lengthAdjust="spacingAndGlyphs">15</text><text x="968.1" y="631.90" font-family="'Liberation Serif',serif" font-size="11.8" font-weight="normal" fill="#2a2a2a" text-anchor="middle" textLength="11.6" lengthAdjust="spacingAndGlyphs">80</text><text x="1015.0500000000001" y="631.90" font-family="'Liberation Serif',serif" font-size="11.8" font-weight="normal" fill="#2a2a2a" text-anchor="middle" textLength="11.6" lengthAdjust="spacingAndGlyphs">40</text><text x="1072.4" y="631.90" font-family="'Liberation Serif',serif" font-size="11.8" font-weight="normal" fill="#2a2a2a" text-anchor="middle" textLength="48.2" lengthAdjust="spacingAndGlyphs">800*1000</text><text x="1130.5" y="631.90" font-family="'Liberation Serif',serif" font-size="11.8" font-weight="normal" fill="#2a2a2a" text-anchor="middle" textLength="17.7" lengthAdjust="spacingAndGlyphs">500</text><text x="671.55" y="659.55" font-family="'Liberation Serif',serif" font-size="11.8" font-weight="normal" fill="#2a2a2a" text-anchor="middle" textLength="48.2" lengthAdjust="spacingAndGlyphs">XTYL-480</text><text x="732.5" y="659.55" font-family="'Liberation Serif',serif" font-size="11.8" font-weight="normal" fill="#2a2a2a" text-anchor="middle" textLength="17.7" lengthAdjust="spacingAndGlyphs">480</text><text x="801.5999999999999" y="659.55" font-family="'Liberation Serif',serif" font-size="11.8" font-weight="normal" fill="#2a2a2a" text-anchor="middle" textLength="72.6" lengthAdjust="spacingAndGlyphs">4-DN250*1400</text><text x="874.25" y="659.55" font-family="'Liberation Serif',serif" font-size="11.8" font-weight="normal" fill="#2a2a2a" text-anchor="middle" textLength="29.9" lengthAdjust="spacingAndGlyphs">DN100</text><text x="923.6" y="659.55" font-family="'Liberation Serif',serif" font-size="11.8" font-weight="normal" fill="#2a2a2a" text-anchor="middle" textLength="11.6" lengthAdjust="spacingAndGlyphs">15</text><text x="968.1" y="659.55" font-family="'Liberation Serif',serif" font-size="11.8" font-weight="normal" fill="#2a2a2a" text-anchor="middle" textLength="11.6" lengthAdjust="spacingAndGlyphs">80</text><text x="1015.0500000000001" y="659.55" font-family="'Liberation Serif',serif" font-size="11.8" font-weight="normal" fill="#2a2a2a" text-anchor="middle" textLength="11.6" lengthAdjust="spacingAndGlyphs">40</text><text x="1072.4" y="659.55" font-family="'Liberation Serif',serif" font-size="11.8" font-weight="normal" fill="#2a2a2a" text-anchor="middle" textLength="48.2" lengthAdjust="spacingAndGlyphs">800*1000</text><text x="1130.5" y="659.55" font-family="'Liberation Serif',serif" font-size="11.8" font-weight="normal" fill="#2a2a2a" text-anchor="middle" textLength="17.7" lengthAdjust="spacingAndGlyphs">500</text><text x="671.55" y="686.95" font-family="'Liberation Serif',serif" font-size="11.8" font-weight="normal" fill="#2a2a2a" text-anchor="middle" textLength="48.2" lengthAdjust="spacingAndGlyphs">XTYL-600</text><text x="732.5" y="686.95" font-family="'Liberation Serif',serif" font-size="11.8" font-weight="normal" fill="#2a2a2a" text-anchor="middle" textLength="17.7" lengthAdjust="spacingAndGlyphs">600</text><text x="801.5999999999999" y="686.95" font-family="'Liberation Serif',serif" font-size="11.8" font-weight="normal" fill="#2a2a2a" text-anchor="middle" textLength="72.6" lengthAdjust="spacingAndGlyphs">4-DN300*1600</text><text x="874.25" y="686.95" font-family="'Liberation Serif',serif" font-size="11.8" font-weight="normal" fill="#2a2a2a" text-anchor="middle" textLength="29.9" lengthAdjust="spacingAndGlyphs">DN100</text><text x="923.6" y="686.95" font-family="'Liberation Serif',serif" font-size="11.8" font-weight="normal" fill="#2a2a2a" text-anchor="middle" textLength="11.6" lengthAdjust="spacingAndGlyphs">22</text><text x="968.1" y="686.95" font-family="'Liberation Serif',serif" font-size="11.8" font-weight="normal" fill="#2a2a2a" text-anchor="middle" textLength="11.6" lengthAdjust="spacingAndGlyphs">90</text><text x="1015.0500000000001" y="686.95" font-family="'Liberation Serif',serif" font-size="11.8" font-weight="normal" fill="#2a2a2a" text-anchor="middle" textLength="11.6" lengthAdjust="spacingAndGlyphs">55</text><text x="1072.4" y="686.95" font-family="'Liberation Serif',serif" font-size="11.8" font-weight="normal" fill="#2a2a2a" text-anchor="middle" textLength="54.3" lengthAdjust="spacingAndGlyphs">1000*1200</text><text x="1130.5" y="686.95" font-family="'Liberation Serif',serif" font-size="11.8" font-weight="normal" fill="#2a2a2a" text-anchor="middle" textLength="23.8" lengthAdjust="spacingAndGlyphs">1000</text><text x="671.55" y="714.15" font-family="'Liberation Serif',serif" font-size="11.8" font-weight="normal" fill="#2a2a2a" text-anchor="middle" textLength="48.2" lengthAdjust="spacingAndGlyphs">XTYL-800</text><text x="732.5" y="714.15" font-family="'Liberation Serif',serif" font-size="11.8" font-weight="normal" fill="#2a2a2a" text-anchor="middle" textLength="17.7" lengthAdjust="spacingAndGlyphs">800</text><text x="801.5999999999999" y="714.15" font-family="'Liberation Serif',serif" font-size="11.8" font-weight="normal" fill="#2a2a2a" text-anchor="middle" textLength="72.6" lengthAdjust="spacingAndGlyphs">4-DN300*1600</text><text x="874.25" y="714.15" font-family="'Liberation Serif',serif" font-size="11.8" font-weight="normal" fill="#2a2a2a" text-anchor="middle" textLength="29.9" lengthAdjust="spacingAndGlyphs">DN100</text><text x="923.6" y="714.15" font-family="'Liberation Serif',serif" font-size="11.8" font-weight="normal" fill="#2a2a2a" text-anchor="middle" textLength="11.6" lengthAdjust="spacingAndGlyphs">22</text><text x="968.1" y="714.15" font-family="'Liberation Serif',serif" font-size="11.8" font-weight="normal" fill="#2a2a2a" text-anchor="middle" textLength="11.6" lengthAdjust="spacingAndGlyphs">90</text><text x="1015.0500000000001" y="714.15" font-family="'Liberation Serif',serif" font-size="11.8" font-weight="normal" fill="#2a2a2a" text-anchor="middle" textLength="11.6" lengthAdjust="spacingAndGlyphs">55</text><text x="1072.4" y="714.15" font-family="'Liberation Serif',serif" font-size="11.8" font-weight="normal" fill="#2a2a2a" text-anchor="middle" textLength="54.3" lengthAdjust="spacingAndGlyphs">1000*1200</text><text x="1130.5" y="714.15" font-family="'Liberation Serif',serif" font-size="11.8" font-weight="normal" fill="#2a2a2a" text-anchor="middle" textLength="23.8" lengthAdjust="spacingAndGlyphs">1000</text><text x="671.55" y="741.00" font-family="'Liberation Serif',serif" font-size="11.8" font-weight="normal" fill="#2a2a2a" text-anchor="middle" textLength="54.3" lengthAdjust="spacingAndGlyphs">XTYL-1000</text><text x="732.5" y="741.00" font-family="'Liberation Serif',serif" font-size="11.8" font-weight="normal" fill="#2a2a2a" text-anchor="middle" textLength="23.8" lengthAdjust="spacingAndGlyphs">1000</text><text x="801.5999999999999" y="741.00" font-family="'Liberation Serif',serif" font-size="11.8" font-weight="normal" fill="#2a2a2a" text-anchor="middle" textLength="72.6" lengthAdjust="spacingAndGlyphs">6-DN300*1600</text><text x="874.25" y="741.00" font-family="'Liberation Serif',serif" font-size="11.8" font-weight="normal" fill="#2a2a2a" text-anchor="middle" textLength="29.9" lengthAdjust="spacingAndGlyphs">DN100</text><text x="923.6" y="741.00" font-family="'Liberation Serif',serif" font-size="11.8" font-weight="normal" fill="#2a2a2a" text-anchor="middle" textLength="11.6" lengthAdjust="spacingAndGlyphs">30</text><text x="968.1" y="741.00" font-family="'Liberation Serif',serif" font-size="11.8" font-weight="normal" fill="#2a2a2a" text-anchor="middle" textLength="17.7" lengthAdjust="spacingAndGlyphs">100</text><text x="1015.0500000000001" y="741.00" font-family="'Liberation Serif',serif" font-size="11.8" font-weight="normal" fill="#2a2a2a" text-anchor="middle" textLength="11.6" lengthAdjust="spacingAndGlyphs">70</text><text x="1072.4" y="741.00" font-family="'Liberation Serif',serif" font-size="11.8" font-weight="normal" fill="#2a2a2a" text-anchor="middle" textLength="54.3" lengthAdjust="spacingAndGlyphs">1000*1200</text><text x="1130.5" y="741.00" font-family="'Liberation Serif',serif" font-size="11.8" font-weight="normal" fill="#2a2a2a" text-anchor="middle" textLength="23.8" lengthAdjust="spacingAndGlyphs">1000</text><rect x="1154.6" y="560" width="2.2" height="54" fill="#fff"/><line x1="1155.6" y1="559" x2="1155.6" y2="614" stroke="#c8c8c8" stroke-width="1"/><line x1="1155.6" y1="614" x2="1155.6" y2="642" stroke="#777" stroke-width="1"/><text x="632" y="101.7" font-family="'Liberation Sans',sans-serif" font-size="14.8" font-weight="normal" fill="#1a1a1a" text-anchor="start" stroke="#1a1a1a" stroke-width="0.3">Product Features</text><text x="632" y="127.30" font-family="'Liberation Sans',sans-serif" font-size="10.6" font-weight="normal" fill="#1a1a1a" text-anchor="start" letter-spacing="0.08" stroke="#1a1a1a" stroke-width="0.22"><tspan font-size="9" dy="-1.2">◆</tspan><tspan dx="2.6" dy="1.2">The main frame is made of steel, bear strong weight;</tspan></text><text x="632" y="144.77" font-family="'Liberation Sans',sans-serif" font-size="10.6" font-weight="normal" fill="#1a1a1a" text-anchor="start" letter-spacing="0.08" stroke="#1a1a1a" stroke-width="0.22"><tspan font-size="9" dy="-1.2">◆</tspan><tspan dx="2.6" dy="1.2">The heat preservation device is perfect and the thermal efficiency is improved;</tspan></text><text x="632" y="162.24" font-family="'Liberation Sans',sans-serif" font-size="10.6" font-weight="normal" fill="#1a1a1a" text-anchor="start" letter-spacing="0.08" stroke="#1a1a1a" stroke-width="0.22"><tspan font-size="9" dy="-1.2">◆</tspan><tspan dx="2.6" dy="1.2">Oil outlet temperature display ;</tspan></text><text x="632" y="179.71" font-family="'Liberation Sans',sans-serif" font-size="10.6" font-weight="normal" fill="#1a1a1a" text-anchor="start" letter-spacing="0.08" stroke="#1a1a1a" stroke-width="0.22"><tspan font-size="9" dy="-1.2">◆</tspan><tspan dx="2.6" dy="1.2">Switching function of heating power and it can be customized;</tspan></text><text x="632" y="197.18" font-family="'Liberation Sans',sans-serif" font-size="10.6" font-weight="normal" fill="#1a1a1a" text-anchor="start" letter-spacing="0.08" stroke="#1a1a1a" stroke-width="0.22"><tspan font-size="9" dy="-1.2">◆</tspan><tspan dx="2.6" dy="1.2">The temperature can be adjusted freely at RT-300 ℃;</tspan></text><text x="910" y="235.3" font-family="'Liberation Sans',sans-serif" font-size="10.6" font-weight="normal" fill="#1a1a1a" text-anchor="start" letter-spacing="0.08" stroke="#1a1a1a" stroke-width="0.22"><tspan font-size="9" dy="-1.2">◆</tspan><tspan dx="2.6" dy="1.2">Automatic exhaust when starting up;</tspan></text><text x="910" y="253.1" font-family="'Liberation Sans',sans-serif" font-size="10.6" font-weight="normal" fill="#1a1a1a" text-anchor="start" letter-spacing="0.08" stroke="#1a1a1a" stroke-width="0.22"><tspan font-size="9" dy="-1.2">◆</tspan><tspan dx="2.6" dy="1.2">Delay cooling when shutting down, and it can be</tspan></text><text x="919.6" y="270.9" font-family="'Liberation Sans',sans-serif" font-size="10.6" font-weight="normal" fill="#1a1a1a" text-anchor="start" letter-spacing="0.08" stroke="#1a1a1a" stroke-width="0.22">customized;</text><text x="910" y="284.6" font-family="'Liberation Sans',sans-serif" font-size="10.6" font-weight="normal" fill="#1a1a1a" text-anchor="start" letter-spacing="0.08" stroke="#1a1a1a" stroke-width="0.22"><tspan font-size="9" dy="-1.2">◆</tspan><tspan dx="2.6" dy="1.2">Multipoint temperature control and it can be</tspan></text><text x="919.6" y="302.0" font-family="'Liberation Sans',sans-serif" font-size="10.6" font-weight="normal" fill="#1a1a1a" text-anchor="start" letter-spacing="0.08" stroke="#1a1a1a" stroke-width="0.22">customized;</text><text x="910" y="315.8" font-family="'Liberation Sans',sans-serif" font-size="10.6" font-weight="normal" fill="#1a1a1a" text-anchor="start" letter-spacing="0.08" stroke="#1a1a1a" stroke-width="0.22"><tspan font-size="9" dy="-1.2">◆</tspan><tspan dx="2.6" dy="1.2">Pressure test</tspan></text><text x="910" y="333.8" font-family="'Liberation Sans',sans-serif" font-size="10.6" font-weight="normal" fill="#1a1a1a" text-anchor="start" letter-spacing="0.08" stroke="#1a1a1a" stroke-width="0.22"><tspan font-size="9" dy="-1.2">◆</tspan><tspan dx="2.6" dy="1.2">Temperature detection and alarm;</tspan></text><text x="910" y="351.4" font-family="'Liberation Sans',sans-serif" font-size="10.6" font-weight="normal" fill="#1a1a1a" text-anchor="start" letter-spacing="0.08" stroke="#1a1a1a" stroke-width="0.22"><tspan font-size="9" dy="-1.2">◆</tspan><tspan dx="2.6" dy="1.2">Our heaters are with explosion-proof, they can</tspan></text><text x="908.9" y="370.5" font-family="'Liberation Sans',sans-serif" font-size="10.6" font-weight="normal" fill="#1a1a1a" text-anchor="start" letter-spacing="0.08" stroke="#1a1a1a" stroke-width="0.22">be OEM.</text><defs><radialGradient id="shd" cx="0.5" cy="0.5" r="0.5"><stop offset="0" stop-color="#c9c9c9"/><stop offset="0.6" stop-color="#e2e2e2"/><stop offset="1" stop-color="#ffffff" stop-opacity="0"/></radialGradient><linearGradient id="sideg" x1="0" y1="0" x2="1" y2="0"><stop offset="0" stop-color="#56575b"/><stop offset="1" stop-color="#4b4c50"/></linearGradient></defs><path d="M310 318 L400 352 L530 298 L520 280 L420 300 Z" fill="#e6e6e6" opacity="0.8" filter="url(#blur)"/><filter id="blur"><feGaussianBlur stdDeviation="4"/></filter><path d="M403.8 125.2 L512.8 142.2 L513.2 287.5 L403.8 324 Z" fill="#4e4f53"/><path d="M400 321 L513.2 284 L513.2 289.5 L400 329 Z" fill="#3d3e42"/><path d="M408 131 L511 146.5 L511 283 L408 318.5 Z" fill="none" stroke="#3f4044" stroke-width="0.8"/><rect x="507.6" y="285" width="5.4" height="11.6" fill="#35363a"/><rect x="416.20" y="273.70" width="1.5" height="9.50" fill="#1f2023"/><rect x="420.70" y="272.51" width="1.5" height="9.40" fill="#1f2023"/><rect x="425.20" y="271.32" width="1.5" height="9.30" fill="#1f2023"/><rect x="429.70" y="270.13" width="1.5" height="9.20" fill="#1f2023"/><rect x="434.20" y="268.94" width="1.5" height="9.10" fill="#1f2023"/><rect x="438.70" y="267.75" width="1.5" height="9.00" fill="#1f2023"/><rect x="443.20" y="266.56" width="1.5" height="8.91" fill="#1f2023"/><rect x="447.70" y="265.37" width="1.5" height="8.81" fill="#1f2023"/><rect x="452.20" y="264.18" width="1.5" height="8.71" fill="#1f2023"/><rect x="456.70" y="263.00" width="1.5" height="8.61" fill="#1f2023"/><rect x="461.20" y="261.81" width="1.5" height="8.51" fill="#1f2023"/><rect x="465.70" y="260.62" width="1.5" height="8.41" fill="#1f2023"/><rect x="470.20" y="259.43" width="1.5" height="8.31" fill="#1f2023"/><rect x="474.70" y="258.24" width="1.5" height="8.21" fill="#1f2023"/><rect x="479.20" y="257.05" width="1.5" height="8.11" fill="#1f2023"/><rect x="483.70" y="255.86" width="1.5" height="8.01" fill="#1f2023"/><rect x="488.20" y="254.67" width="1.5" height="7.91" fill="#1f2023"/><rect x="492.70" y="253.48" width="1.5" height="7.81" fill="#1f2023"/><rect x="497.20" y="252.29" width="1.5" height="7.72" fill="#1f2023"/><rect x="501.70" y="251.10" width="1.5" height="7.62" fill="#1f2023"/><rect x="506.20" y="249.91" width="1.5" height="7.52" fill="#1f2023"/><rect x="416.20" y="294.00" width="1.5" height="11.00" fill="#1f2023"/><rect x="420.70" y="292.61" width="1.5" height="10.88" fill="#1f2023"/><rect x="425.20" y="291.22" width="1.5" height="10.75" fill="#1f2023"/><rect x="429.70" y="289.84" width="1.5" height="10.63" fill="#1f2023"/><rect x="434.20" y="288.45" width="1.5" height="10.50" fill="#1f2023"/><rect x="438.70" y="287.06" width="1.5" height="10.38" fill="#1f2023"/><rect x="443.20" y="285.67" width="1.5" height="10.26" fill="#1f2023"/><rect x="447.70" y="284.29" width="1.5" height="10.13" fill="#1f2023"/><rect x="452.20" y="282.90" width="1.5" height="10.01" fill="#1f2023"/><rect x="456.70" y="281.51" width="1.5" height="9.88" fill="#1f2023"/><rect x="461.20" y="280.12" width="1.5" height="9.76" fill="#1f2023"/><rect x="465.70" y="278.74" width="1.5" height="9.64" fill="#1f2023"/><rect x="470.20" y="277.35" width="1.5" height="9.51" fill="#1f2023"/><rect x="474.70" y="275.96" width="1.5" height="9.39" fill="#1f2023"/><rect x="479.20" y="274.57" width="1.5" height="9.27" fill="#1f2023"/><rect x="483.70" y="273.19" width="1.5" height="9.14" fill="#1f2023"/><rect x="488.20" y="271.80" width="1.5" height="9.02" fill="#1f2023"/><rect x="492.70" y="270.41" width="1.5" height="8.89" fill="#1f2023"/><rect x="497.20" y="269.02" width="1.5" height="8.77" fill="#1f2023"/><rect x="501.70" y="267.63" width="1.5" height="8.65" fill="#1f2023"/><rect x="506.20" y="266.25" width="1.5" height="8.52" fill="#1f2023"/><path d="M397 124 L404.5 125.2 L404.5 262 L397 262 Z" fill="#515256"/><path d="M397.8 129.6 L404 130.4 L404 253 L397.8 254 Z" fill="#1c222c"/><path d="M365 118.3 L397.6 124.2 L397.6 257 L365 262 Z" fill="#55565a"/><path d="M299 131.2 L365 118.3 L365 262 L300 255 Z" fill="#4f5054"/><path d="M301.7 134.3 L363 124 L363 258 L301.7 251.5 Z" fill="#505155" stroke="#3c3d41" stroke-width="0.8"/><path d="M299 131.2 L365.9 118.3 L512.8 142.2" fill="none" stroke="#6a6b6f" stroke-width="0.7"/><rect x="307.5" y="140.5" width="8.6" height="13.5" fill="#222326"/><rect x="308.7" y="141.8" width="6.2" height="10" fill="#cfd8d6"/><rect x="308.0" y="155.0" width="7.5" height="1.2" fill="#a89a48"/><rect x="318.5" y="139.6" width="8.6" height="13.5" fill="#222326"/><rect x="319.7" y="140.9" width="6.2" height="10" fill="#cfd8d6"/><rect x="319.0" y="154.1" width="7.5" height="1.2" fill="#a89a48"/><rect x="330.5" y="138.7" width="8.6" height="13.5" fill="#222326"/><rect x="331.7" y="140.0" width="6.2" height="10" fill="#2a2b2f"/><rect x="331.0" y="153.2" width="7.5" height="1.2" fill="#a89a48"/><rect x="342.0" y="137.8" width="8.6" height="13.5" fill="#222326"/><rect x="343.2" y="139.1" width="6.2" height="10" fill="#2a2b2f"/><rect x="342.5" y="152.3" width="7.5" height="1.2" fill="#a89a48"/><rect x="356.2" y="138.3" width="3.4" height="16" fill="#d8d8d8"/><circle cx="312.8" cy="166.8" r="2.7" fill="#b02020"/><rect x="310.3" y="170.4" width="5" height="2.6" fill="#b7a84a"/><rect x="310.0" y="177.8" width="5.6" height="3.2" fill="#26272a"/><rect x="310.3" y="183.3" width="5" height="2.6" fill="#b7a84a"/><circle cx="321.4" cy="166.0" r="2.7" fill="#1f6a4a"/><rect x="318.9" y="169.6" width="5" height="2.6" fill="#b7a84a"/><rect x="318.6" y="177.0" width="5.6" height="3.2" fill="#26272a"/><rect x="318.9" y="182.5" width="5" height="2.6" fill="#b7a84a"/><circle cx="330.1" cy="165.2" r="2.7" fill="#1f6a4a"/><rect x="327.6" y="168.8" width="5" height="2.6" fill="#b7a84a"/><rect x="327.3" y="176.2" width="5.6" height="3.2" fill="#26272a"/><rect x="327.6" y="181.7" width="5" height="2.6" fill="#b7a84a"/><circle cx="338.8" cy="164.4" r="2.7" fill="#1f6a4a"/><rect x="336.2" y="168.0" width="5" height="2.6" fill="#b7a84a"/><rect x="335.9" y="175.4" width="5.6" height="3.2" fill="#26272a"/><rect x="336.2" y="180.9" width="5" height="2.6" fill="#b7a84a"/><circle cx="347.4" cy="163.6" r="2.7" fill="#1f6a4a"/><rect x="344.9" y="167.2" width="5" height="2.6" fill="#b7a84a"/><rect x="344.6" y="174.6" width="5.6" height="3.2" fill="#26272a"/><rect x="344.9" y="180.1" width="5" height="2.6" fill="#b7a84a"/><g fill="#e0e0e0"><rect x="313.6" y="214" width="5" height="1.2"/><rect x="313.6" y="216.3" width="5" height="1.2"/><rect x="313.6" y="218.6" width="1.4" height="3"/><rect x="317.2" y="218.6" width="1.4" height="3"/></g><text x="319.8" y="221.6" font-family="Liberation Sans" font-size="8.6" fill="#e6e6e6" textLength="26.7" lengthAdjust="spacingAndGlyphs">SINTON</text><rect x="356.5" y="226" width="2.6" height="15" fill="#c8c8c8"/><circle cx="379.6" cy="152.6" r="7.2" fill="#2b2c30"/><circle cx="379.6" cy="152.6" r="4" fill="#c9b7c2"/><path d="M373.8 145.6 L386.2 158.8 M386.2 145.6 L373.8 158.8" stroke="#9aa6a6" stroke-width="0.5"/><g fill="#cfd6d6"><circle cx="373.8" cy="145.6" r="0.8"/><circle cx="386.2" cy="145.8" r="0.8"/><circle cx="373.8" cy="158.8" r="0.8"/><circle cx="386.2" cy="158.6" r="0.8"/></g><g fill="#dcdcdc"><rect x="450" y="179.3" width="2.8" height="0.9"/><rect x="450" y="181" width="2.8" height="0.9"/><rect x="450" y="182.7" width="0.9" height="2"/><rect x="451.9" y="182.7" width="0.9" height="2"/></g><text x="453.6" y="184.8" font-family="Liberation Sans" font-size="5.8" fill="#e0e0e0" textLength="19.5" lengthAdjust="spacingAndGlyphs">SINTON</text><rect x="425.5" y="137" width="2" height="8" fill="#d0d0d0"/><rect x="502" y="149" width="1.5" height="6" fill="#d0d0d0"/><path d="M375.6 262 L403.9 255.5 L403.9 323.6 L375.6 331.4 Z" fill="#424347"/><path d="M307.5 256.4 L375.6 262 L375.6 331.4 L307.5 315.8 Z" fill="#3a3b3f"/><path d="M300 255 L365 262 L375.6 262 L403.9 255.5 L397.6 257 L365 262" fill="none" stroke="#5e5f63" stroke-width="1.2"/><path d="M300 254 L375.6 261.2 L375.6 264 L307.5 257.8 Z" fill="#4a4b4f"/><rect x="311.00" y="276.50" width="1.6" height="9" fill="#1d1e21"/><rect x="316.40" y="277.66" width="1.6" height="9" fill="#1d1e21"/><rect x="321.80" y="278.83" width="1.6" height="9" fill="#1d1e21"/><rect x="327.20" y="279.99" width="1.6" height="9" fill="#1d1e21"/><rect x="332.60" y="281.15" width="1.6" height="9" fill="#1d1e21"/><rect x="338.00" y="282.32" width="1.6" height="9" fill="#1d1e21"/><rect x="343.40" y="283.48" width="1.6" height="9" fill="#1d1e21"/><rect x="348.80" y="284.64" width="1.6" height="9" fill="#1d1e21"/><rect x="354.20" y="285.80" width="1.6" height="9" fill="#1d1e21"/><rect x="359.60" y="286.97" width="1.6" height="9" fill="#1d1e21"/><rect x="365.00" y="288.13" width="1.6" height="9" fill="#1d1e21"/><rect x="370.40" y="289.29" width="1.6" height="9" fill="#1d1e21"/><rect x="380.50" y="283.00" width="1.8" height="10" fill="#1d1e21"/><rect x="385.80" y="281.55" width="1.8" height="10" fill="#1d1e21"/><rect x="391.10" y="280.11" width="1.8" height="10" fill="#1d1e21"/><rect x="396.40" y="278.66" width="1.8" height="10" fill="#1d1e21"/><rect x="311.00" y="299.00" width="1.6" height="9" fill="#1d1e21"/><rect x="316.40" y="300.16" width="1.6" height="9" fill="#1d1e21"/><rect x="321.80" y="301.33" width="1.6" height="9" fill="#1d1e21"/><rect x="327.20" y="302.49" width="1.6" height="9" fill="#1d1e21"/><rect x="332.60" y="303.65" width="1.6" height="9" fill="#1d1e21"/><rect x="338.00" y="304.82" width="1.6" height="9" fill="#1d1e21"/><rect x="343.40" y="305.98" width="1.6" height="9" fill="#1d1e21"/><rect x="348.80" y="307.14" width="1.6" height="9" fill="#1d1e21"/><rect x="354.20" y="308.30" width="1.6" height="9" fill="#1d1e21"/><rect x="359.60" y="309.47" width="1.6" height="9" fill="#1d1e21"/><rect x="365.00" y="310.63" width="1.6" height="9" fill="#1d1e21"/><rect x="370.40" y="311.79" width="1.6" height="9" fill="#1d1e21"/><rect x="380.50" y="306.00" width="1.8" height="10" fill="#1d1e21"/><rect x="385.80" y="304.55" width="1.8" height="10" fill="#1d1e21"/><rect x="391.10" y="303.11" width="1.8" height="10" fill="#1d1e21"/><rect x="396.40" y="301.66" width="1.8" height="10" fill="#1d1e21"/><rect x="336.7" y="320" width="6.8" height="10.5" fill="#35363a"/><path d="M399 320 L408.3 318 L408.3 346.8 L399 346.8 Z" fill="#38393d"/><clipPath id="hc"><rect x="627.7" y="468.7" width="459.6" height="14.3"/></clipPath><g clip-path="url(#hc)"><rect x="627.7" y="468.7" width="459.6" height="14.3" fill="#fafafa"/><path d="M628 483 L639 469 M633 483 L644 469 M638 483 L649 469 M643 483 L654 469 M648 483 L659 469 M653 483 L664 469 M658 483 L669 469 M663 483 L674 469 M668 483 L679 469 M673 483 L684 469 M678 483 L689 469 M683 483 L694 469 M688 483 L699 469 M693 483 L704 469 M698 483 L709 469 M703 483 L714 469 M708 483 L719 469 M713 483 L724 469 M718 483 L729 469 M723 483 L734 469 M728 483 L739 469 M733 483 L744 469 M738 483 L749 469 M743 483 L754 469 M748 483 L759 469 M753 483 L764 469 M758 483 L769 469 M763 483 L774 469 M768 483 L779 469 M773 483 L784 469 M778 483 L789 469 M783 483 L794 469 M788 483 L799 469 M793 483 L804 469 M798 483 L809 469 M803 483 L814 469 M808 483 L819 469 M813 483 L824 469 M818 483 L829 469 M823 483 L834 469 M828 483 L839 469 M833 483 L844 469 M838 483 L849 469 M843 483 L854 469 M848 483 L859 469 M853 483 L864 469 M858 483 L869 469 M863 483 L874 469 M868 483 L879 469 M873 483 L884 469 M878 483 L889 469 M883 483 L894 469 M888 483 L899 469 M893 483 L904 469 M898 483 L909 469 M903 483 L914 469 M908 483 L919 469 M913 483 L924 469 M918 483 L929 469 M923 483 L934 469 M928 483 L939 469 M933 483 L944 469 M938 483 L949 469 M943 483 L954 469 M948 483 L959 469 M953 483 L964 469 M958 483 L969 469 M963 483 L974 469 M968 483 L979 469 M973 483 L984 469 M978 483 L989 469 M983 483 L994 469 M988 483 L999 469 M993 483 L1004 469 M998 483 L1009 469 M1003 483 L1014 469 M1008 483 L1019 469 M1013 483 L1024 469 M1018 483 L1029 469 M1023 483 L1034 469 M1028 483 L1039 469 M1033 483 L1044 469 M1038 483 L1049 469 M1043 483 L1054 469 M1048 483 L1059 469 M1053 483 L1064 469 M1058 483 L1069 469 M1063 483 L1074 469 M1068 483 L1079 469 M1073 483 L1084 469 M1078 483 L1089 469 M1083 483 L1094 469 M1088 483 L1099 469" stroke="#b8b8b8" stroke-width="0.9" fill="none"/></g><path d="M672.8 300.3 H822.5 M672.8 300.3 V369.1 H693" stroke="#666" stroke-width="0.8" fill="none"/><path d="M672.8 300.5 l-1.3 4 h2.6 Z M672.8 368.9 l-1.3 -4 h2.6 Z" fill="#666"/><text x="0" y="0" font-family="Liberation Sans" font-size="13.5" fill="#2a2a2a" transform="translate(673.2 353.2) rotate(-90)" textLength="36.8" lengthAdjust="spacingAndGlyphs">≥1.5m</text><path d="M828.2 313.4 V468.7 M870.9 313.4 V468.7 M828.2 313.4 H870.9 M828.2 361 H870.9" stroke="#555" stroke-width="1.4" fill="none"/><rect x="718.4" y="356.2" width="42.7" height="78.9" fill="#fff" stroke="#555" stroke-width="1"/><path d="M718.4 446.5 V468.4 M720.6 446.5 V468.4 M759 446.5 V468.4 M761.1 446.5 V468.4" stroke="#666" stroke-width="0.9" fill="none"/><polyline points="727,372.4 754.9,380 727,387.3 754.9,394.6 727,401.9 754.9,409.2 727,416.5 754.9,423.8" fill="none" stroke="#e0607a" stroke-width="0.7"/><text x="740" y="432.3" font-family="Liberation Sans" font-size="8.8" fill="#222" stroke="#222" stroke-width="0.2" text-anchor="middle" >用热设备</text><text x="703.6" y="444.7" font-family="Liberation Mono" font-size="8.2" fill="#222" stroke="#222" stroke-width="0.2" text-anchor="start" textLength="107.3" lengthAdjust="spacingAndGlyphs">Heat-consuming equipment</text><path d="M692.9 369.5 V258.5 Q692.9 253.6 697.7 253.6 H834 Q838.6 253.6 838.6 258 V265" stroke="#1b3fa6" stroke-width="3.2" fill="none"/><path d="M692.9 369.5 V447.8 Q692.9 451.8 696.9 451.8 H928" stroke="#7a44a6" stroke-width="3.2" fill="none"/><path d="M692.9 370.6 H716.5" stroke="#7a44a6" stroke-width="2.6" fill="none"/><path d="M776 457.8 H813" stroke="#7a44a6" stroke-width="0.8"/><path d="M802 456.9 L813 457.2 L802.5 460.8 Z" fill="#7a44a6"/><path d="M761.1 425.7 H783.5 Q787 425.7 787 422 V410.6 Q787 407 790.5 407 H960 Q963 407 963 410 V412" stroke="#ea2020" stroke-width="2.9" fill="none"/><path d="M879.2 403.1 H915.3" stroke="#ea2020" stroke-width="0.8"/><path d="M879.2 403.1 L890 399.5 L890 403.3 Z" fill="#ea2020"/><path d="M848.9 303 V418.6 Q848.9 422.4 852.7 422.4 H940.8 Q944.6 422.4 944.6 426.2 V438" stroke="#1b3fa6" stroke-width="2.2" fill="none"/><path d="M703.3 320 V286" stroke="#1b3fa6" stroke-width="0.8"/><path d="M703.3 284.6 L707.2 294 L703.3 293.8 Z" fill="#1b3fa6"/><path d="M844.6 364.7 V400" stroke="#1b3fa6" stroke-width="0.8"/><path d="M844.6 400.6 L841.1 391.8 L844.6 392 Z" fill="#1b3fa6"/><path d="M705.6999999999999 367.8 L709.3 370.3 L712.9 367.8 V373.40000000000003 L709.3 370.90000000000003 L705.6999999999999 373.40000000000003 Z" fill="#c04070"/><rect x="702.75" y="366.1" width="2.9" height="9" rx="0.8" fill="#3a1420"/><rect x="712.95" y="366.1" width="2.9" height="9" rx="0.8" fill="#3a1420"/><path d="M709.3 370.6 V364.1 M707.3 364.1 H711.3" stroke="#666" stroke-width="0.8"/><path d="M690.0 333.8 L692.5 337.8 L690.0 341.8 H695.5999999999999 L693.0999999999999 337.8 L695.5999999999999 333.8 Z" fill="#2050c0"/><rect x="688.3" y="331.00" width="9" height="2.6" rx="0.8" fill="#3a1420"/><rect x="688.3" y="342.00" width="9" height="2.6" rx="0.8" fill="#3a1420"/><text x="684" y="339.5" font-family="Liberation Mono" font-size="4" fill="#666">1s</text><path d="M771.1 422.9 L774.7 425.4 L778.3000000000001 422.9 V428.5 L774.7 426.0 L771.1 428.5 Z" fill="#d02a3a"/><rect x="768.15" y="421.2" width="2.9" height="9" rx="0.8" fill="#3a1420"/><rect x="778.35" y="421.2" width="2.9" height="9" rx="0.8" fill="#3a1420"/><path d="M774.7 425.7 V419.2 M772.7 419.2 H776.7" stroke="#666" stroke-width="0.8"/><path d="M931.0 404.2 L934.6 406.7 L938.2 404.2 V409.8 L934.6 407.3 L931.0 409.8 Z" fill="#d02a3a"/><rect x="928.05" y="402.5" width="2.9" height="9" rx="0.8" fill="#3a1420"/><rect x="938.25" y="402.5" width="2.9" height="9" rx="0.8" fill="#3a1420"/><path d="M934.6 407 V400.5 M932.6 400.5 H936.6" stroke="#666" stroke-width="0.8"/><path d="M929.8 448.9 L933.4 451.4 L937.0 448.9 V454.5 L933.4 452.0 L929.8 454.5 Z" fill="#c04070"/><rect x="926.85" y="447.2" width="2.9" height="9" rx="0.8" fill="#3a1420"/><rect x="937.05" y="447.2" width="2.9" height="9" rx="0.8" fill="#3a1420"/><path d="M933.4 451.7 V445.2 M931.4 445.2 H935.4" stroke="#666" stroke-width="0.8"/><path d="M826 269.9 H872.4 Q878 285 872.4 300.3 H826 Q820.4 285 826 269.9 Z" fill="#fff" stroke="#555" stroke-width="0.8"/><clipPath id="tk"><path d="M826 269.9 H872.4 Q878 285 872.4 300.3 H826 Q820.4 285 826 269.9 Z"/></clipPath><g clip-path="url(#tk)"><rect x="820" y="288.3" width="60" height="13" fill="#a9b9e6"/><line x1="831.4" y1="288.5" x2="831.4" y2="300" stroke="#e8eeff" stroke-width="0.6"/><line x1="836.5" y1="288.5" x2="836.5" y2="300" stroke="#e8eeff" stroke-width="0.6"/><line x1="841.6" y1="288.5" x2="841.6" y2="300" stroke="#e8eeff" stroke-width="0.6"/><line x1="846.7" y1="288.5" x2="846.7" y2="300" stroke="#e8eeff" stroke-width="0.6"/><line x1="851.8" y1="288.5" x2="851.8" y2="300" stroke="#e8eeff" stroke-width="0.6"/><line x1="856.9" y1="288.5" x2="856.9" y2="300" stroke="#e8eeff" stroke-width="0.6"/><line x1="862.0" y1="288.5" x2="862.0" y2="300" stroke="#e8eeff" stroke-width="0.6"/><line x1="867.1" y1="288.5" x2="867.1" y2="300" stroke="#e8eeff" stroke-width="0.6"/></g><path d="M823 285.2 H875.5" stroke="#e06030" stroke-width="0.8" stroke-dasharray="3 1"/><path d="M831.4 270.2 V300 M867 270.2 V300" stroke="#555" stroke-width="0.7"/><rect x="835.3" y="264.6" width="6.8" height="2" fill="#333"/><rect x="837.5" y="266.5" width="2.4" height="3.5" fill="#999"/><rect x="854.5" y="265.2" width="6.8" height="2" fill="#333"/><rect x="856.7" y="267" width="2.4" height="3" fill="#999"/><path d="M877.7 272.8 V297" stroke="#7a2030" stroke-width="1.2"/><path d="M875 273 H878 M875 297 H878" stroke="#222" stroke-width="1.4"/><path d="M823 274.5 H818" stroke="#777" stroke-width="1.5"/><rect x="816.8" y="271.3" width="2" height="6.5" fill="#7a2030"/><path d="M817 274.5 H813.5 Q810.3 274.5 810.3 277.7 V290" stroke="#888" stroke-width="1.8" fill="none"/><path d="M834.2 301 V313.4 M841.4 301 V313.4 M857 301 V313.4 M863.5 301 V313.4" stroke="#666" stroke-width="0.8"/><rect x="833.5" y="300.3" width="8.5" height="2.5" fill="#ddd" stroke="#777" stroke-width="0.5"/><rect x="856.3" y="300.3" width="8" height="2.5" fill="#ddd" stroke="#777" stroke-width="0.5"/><rect x="845.5" y="302.6" width="7" height="1.6" fill="#5a2030"/><path d="M857.8 247.8 V258" stroke="#ea2020" stroke-width="0.7"/><path d="M855.8 256 L857.8 262.8 L859.8 256 Z" fill="#ea2020"/><text x="859.9" y="230.2" font-family="Liberation Sans" font-size="8.6" fill="#222" stroke="#222" stroke-width="0.2" text-anchor="middle" >注油口</text><text x="835" y="240.6" font-family="Liberation Mono" font-size="8.2" fill="#222" stroke="#222" stroke-width="0.2" text-anchor="start" textLength="49.6" lengthAdjust="spacingAndGlyphs">Oil Filling</text><text x="639.9" y="274.2" font-family="Liberation Sans" font-size="8.6" fill="#222" stroke="#222" stroke-width="0.2" text-anchor="middle" >系统排气</text><text x="610.6" y="283.3" font-family="Liberation Mono" font-size="8.2" fill="#222" stroke="#222" stroke-width="0.2" text-anchor="start" textLength="62.3" lengthAdjust="spacingAndGlyphs">System exhaust</text><text x="721.9" y="280.3" font-family="Liberation Mono" font-size="8.2" fill="#222" stroke="#222" stroke-width="0.2" text-anchor="start" textLength="71.2" lengthAdjust="spacingAndGlyphs">Oil Spill outlet</text><text x="757.6" y="291.7" font-family="Liberation Sans" font-size="8.6" fill="#222" stroke="#222" stroke-width="0.2" text-anchor="middle" >溢流口</text><path d="M608.4 286.4 H670.8 L691 295.8" stroke="#8cc870" stroke-width="0.8" fill="none"/><path d="M738.4 294.6 H775.4 L810 278" stroke="#8cc870" stroke-width="0.8" fill="none"/><text x="921.1" y="386.7" font-family="Liberation Sans" font-size="8.6" fill="#222" stroke="#222" stroke-width="0.2" text-anchor="middle" >出油口</text><text x="898.3" y="397.1" font-family="Liberation Mono" font-size="8.2" fill="#222" stroke="#222" stroke-width="0.2" text-anchor="start" textLength="45.3" lengthAdjust="spacingAndGlyphs">Oil outlet</text><text x="1002.7" y="384.8" font-family="Liberation Sans" font-size="8.6" fill="#222" stroke="#222" stroke-width="0.2" text-anchor="middle" >导热油炉</text><text x="960.2" y="395.5" font-family="Liberation Mono" font-size="8.2" fill="#222" stroke="#222" stroke-width="0.2" text-anchor="start" textLength="84.2" lengthAdjust="spacingAndGlyphs">Electric oil heater</text><text x="878.3" y="467.1" font-family="Liberation Sans" font-size="8.6" fill="#222" stroke="#222" stroke-width="0.2" text-anchor="start" >进油口</text><text x="908.3" y="467" font-family="Liberation Mono" font-size="8.2" fill="#222" stroke="#222" stroke-width="0.2" text-anchor="start" textLength="40.8" lengthAdjust="spacingAndGlyphs">Oil inlet</text><path d="M950.1 401.2 H1040 M952.7 404.4 H1037.5 M950.1 401.2 V468.4 M952.7 404.4 V468.4 M1037.5 404.4 V468.4 M1040.1 401.2 V468.4 M952.7 460.3 H1037.5 M952.7 463.8 H1037.5" stroke="#666" stroke-width="1" fill="none"/><rect x="1040.1" y="401.2" width="15.8" height="49.3" fill="#fff" stroke="#777" stroke-width="0.9"/><path d="M1040.1 450.5 V464.4 H1052.4 V450.5" stroke="#777" stroke-width="0.9" fill="none"/><text x="1047.9" y="419.0" font-family="Liberation Sans" font-size="7.6" fill="#e04040" stroke="#e04040" stroke-width="0.2" text-anchor="middle" >控</text><text x="1047.9" y="428.2" font-family="Liberation Sans" font-size="7.6" fill="#e04040" stroke="#e04040" stroke-width="0.2" text-anchor="middle" >制</text><text x="1047.9" y="437.4" font-family="Liberation Sans" font-size="7.6" fill="#e04040" stroke="#e04040" stroke-width="0.2" text-anchor="middle" >柜</text><text x="1047.9" y="445" font-family="Liberation Sans" font-size="6" fill="#e04040" text-anchor="middle">ϟ</text><text x="0" y="0" font-family="Liberation Mono" font-size="7.2" fill="#222" stroke="#222" stroke-width="0.2" text-anchor="start" transform="translate(1065.3 453.3) rotate(-90)" textLength="51.6" lengthAdjust="spacingAndGlyphs">Control cabinet</text><text x="0" y="0" font-family="Liberation Sans" font-size="7" fill="#222" transform="translate(1074.8 436.6) rotate(-90)">控制柜</text><rect x="952.7" y="414.8" width="69.8" height="12.7" fill="#4a3a3a"/><rect x="955" y="416.8" width="66" height="8.7" fill="#2a1616"/><path d="M958 420.8 H1024" stroke="#c03030" stroke-width="0.8"/><path d="M958.5 416.5 Q954.5 421 958.5 425.5" stroke="#ddd" stroke-width="1.4" fill="none"/><rect x="1025.6" y="414.2" width="2.6" height="13.8" fill="#5a2a30"/><rect x="1028.2" y="416.5" width="6" height="9.5" fill="#151515"/><rect x="1033.5" y="417" width="2.2" height="8.5" fill="#ccc"/><rect x="958" y="410.8" width="9" height="2.2" fill="#333"/><path d="M991.9 404.4 V414.8" stroke="#444" stroke-width="0.9"/><rect x="990.9" y="406" width="2" height="2.6" fill="#222"/><path d="M987.3 427.5 V449" stroke="#a06a6a" stroke-width="2" fill="none"/><rect x="984.5" y="430.8" width="5.6" height="1.8" fill="#3a1a22"/><path d="M1016.7 427.5 V437 Q1016.7 440 1013.7 440 H997 Q994.2 440 994.2 443 V446" stroke="#a06a6a" stroke-width="2.2" fill="none"/><rect x="1013.5" y="433" width="6" height="1.8" fill="#3a1a22"/><rect x="1000" y="437" width="1.8" height="6" fill="#3a1a22"/><rect x="1006" y="437" width="1.8" height="6" fill="#3a1a22"/><path d="M1010 429 V436" stroke="#e04040" stroke-width="0.6"/><path d="M944 452.3 H992" stroke="#c8b0b0" stroke-width="2.4"/><path d="M944 452.3 H992" stroke="#e8a0a0" stroke-width="0.5"/><rect x="973" y="448" width="2.2" height="8.5" fill="#3a1a22"/><rect x="983.4" y="448" width="2.2" height="8.5" fill="#3a1a22"/><rect x="992" y="446" width="6" height="12" fill="#ccc" stroke="#555" stroke-width="0.6"/><rect x="998" y="449" width="9" height="7" fill="#eee" stroke="#444" stroke-width="0.7"/><rect x="1007" y="447.5" width="3" height="10" fill="#fff" stroke="#444" stroke-width="0.6"/><rect x="1010" y="449" width="13.5" height="7.5" fill="#ddd" stroke="#666" stroke-width="0.5"/><path d="M1011 451 H1023 M1011 453 H1023 M1011 455 H1023" stroke="#999" stroke-width="0.4"/><rect x="988.4" y="458.3" width="34.6" height="1.8" fill="#444"/><rect x="940.8" y="437.3" width="7.6" height="2" fill="#3a1a22"/><rect x="940.8" y="446" width="7.6" height="2" fill="#3a1a22"/><rect x="942.6" y="439.3" width="4" height="6.7" fill="#eee" stroke="#777" stroke-width="0.5"/><path d="M944.6 448 V456 M942 456.5 H947" stroke="#333" stroke-width="1"/>
</svg>
</body></html>
